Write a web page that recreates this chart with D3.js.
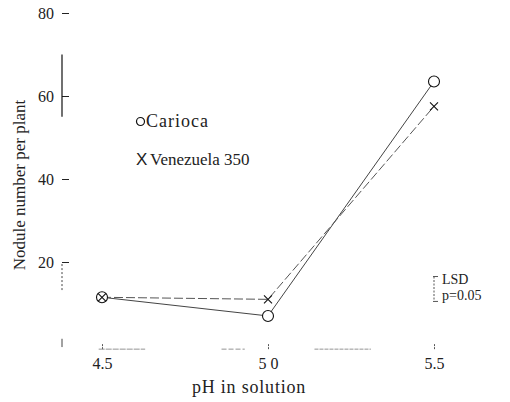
<!DOCTYPE html>
<html>
<head>
<meta charset="utf-8">
<script src="https://cdn.jsdelivr.net/npm/d3@7"></script>
<style>
  html, body { margin: 0; padding: 0; background: #fff; }
  svg { display: block; font-family: "Liberation Serif", "DejaVu Serif", serif; }
</style>
</head>
<body>
<svg id="chart" width="510" height="402"></svg>
<script>
// Nodule number per plant against solution pH, two bean cultivars
const phLevels = [4.5, 5.0, 5.5];
const phTickLabels = ["4.5", "5 0", "5.5"];
const yTicks = [20, 40, 60, 80];
const seriesNames = ["Carioca", "Venezuela 350"];
const cariocaValues = [11.5, 7, 63.5];
const venezuelaValues = [11.5, 11, 57.5];
const lsdValue = 6;          // LSD at p = 0.05, in nodules per plant
const lsdLabels = ["LSD", "p=0.05"];

const svg = d3.select("#chart");

const x = d3.scaleLinear().domain([4.5, 5.5]).range([102, 434]);
const y = d3.scaleLinear().domain([0, 80]).range([345, 13]);

// ---- y axis: ticks pointing inward, only parts of the spine are printed
const yAxis = d3.axisLeft(y)
  .tickValues(yTicks)
  .tickSizeInner(-7)
  .tickSizeOuter(0)
  .tickPadding(8)
  .tickFormat(d3.format("d"));

const gy = svg.append("g")
  .attr("transform", "translate(62,0)")
  .call(yAxis);
gy.select(".domain").remove();
gy.selectAll(".tick line").attr("stroke", "#222").attr("stroke-width", 1);
gy.selectAll(".tick text")
  .attr("font-family", "Liberation Serif, serif")
  .attr("font-size", 16)
  .attr("fill", "#222");

// printed pieces of the y spine
gy.append("line")
  .attr("x1", 0).attr("x2", 0)
  .attr("y1", y(70)).attr("y2", y(55))
  .attr("stroke", "#111").attr("stroke-width", 1.2);
gy.append("line")
  .attr("x1", 0).attr("x2", 0)
  .attr("y1", y(19.5)).attr("y2", y(13))
  .attr("stroke", "#444").attr("stroke-width", 1)
  .attr("stroke-dasharray", "2,2");
gy.append("line")
  .attr("x1", 0).attr("x2", 0)
  .attr("y1", y(1.5)).attr("y2", y(-0.5))
  .attr("stroke", "#444").attr("stroke-width", 1);

// ---- x axis: small upward ticks, faint broken baseline
const xAxis = d3.axisBottom(x)
  .tickValues(phLevels)
  .tickSizeInner(-5)
  .tickSizeOuter(0)
  .tickPadding(8)
  .tickFormat((d, i) => phTickLabels[i]);

const gx = svg.append("g")
  .attr("transform", `translate(0,${y(-1)})`)
  .call(xAxis);
gx.select(".domain").remove();
gx.selectAll(".tick line").attr("stroke", "#555").attr("stroke-width", 1)
  .attr("stroke-dasharray", "2,1");
gx.selectAll(".tick text")
  .attr("font-family", "Liberation Serif, serif")
  .attr("font-size", 16)
  .attr("fill", "#222");

const baselinePieces = [[4.49, 4.63, "6,1"], [4.86, 4.93, "5,2"], [5.14, 5.31, "4,1"]];
gx.selectAll("line.base")
  .data(baselinePieces)
  .join("line")
  .attr("class", "base")
  .attr("x1", d => x(d[0])).attr("x2", d => x(d[1]))
  .attr("y1", 0).attr("y2", 0)
  .attr("stroke", "#888").attr("stroke-width", 0.9)
  .attr("stroke-dasharray", d => d[2]);

// ---- axis titles
svg.append("text")
  .attr("x", 249).attr("y", 393)
  .attr("text-anchor", "middle")
  .attr("font-size", 18)
  .attr("letter-spacing", 0.8)
  .attr("fill", "#222")
  .text("pH in solution");

svg.append("text")
  .attr("transform", "translate(25,185) rotate(-90)")
  .attr("text-anchor", "middle")
  .attr("font-size", 17)
  .attr("fill", "#222")
  .text("Nodule number per plant");

// ---- series lines
const line = d3.line()
  .x((d, i) => x(phLevels[i]))
  .y(d => y(d));

svg.append("path")
  .datum(cariocaValues)
  .attr("d", line)
  .attr("fill", "none")
  .attr("stroke", "#444")
  .attr("stroke-width", 1);

svg.append("path")
  .datum(venezuelaValues)
  .attr("d", line)
  .attr("fill", "none")
  .attr("stroke", "#555")
  .attr("stroke-width", 1)
  .attr("stroke-dasharray", "9,3");

// ---- markers
const crossPath = s => `M${-s},${-s}L${s},${s}M${s},${-s}L${-s},${s}`;

svg.selectAll("circle.carioca")
  .data(cariocaValues)
  .join("circle")
  .attr("class", "carioca")
  .attr("cx", (d, i) => x(phLevels[i]))
  .attr("cy", d => y(d))
  .attr("r", 5.5)
  .attr("fill", "#fff")
  .attr("stroke", "#111")
  .attr("stroke-width", 1.1);

svg.selectAll("path.venezuela")
  .data(venezuelaValues)
  .join("path")
  .attr("class", "venezuela")
  .attr("transform", (d, i) => `translate(${x(phLevels[i])},${y(d)})`)
  .attr("d", crossPath(4))
  .attr("stroke", "#111")
  .attr("stroke-width", 1.1)
  .attr("fill", "none");

// ---- legend
const legend = svg.append("g").attr("transform", "translate(136,0)");
legend.append("circle")
  .attr("cx", 4.5).attr("cy", 121.5)
  .attr("r", 4)
  .attr("fill", "#fff").attr("stroke", "#111").attr("stroke-width", 1.2);
legend.append("text")
  .attr("x", 10).attr("y", 127)
  .attr("font-size", 18).attr("letter-spacing", 1)
  .attr("fill", "#222")
  .text(seriesNames[0]);
legend.append("text")
  .attr("x", 0).attr("y", 165)
  .attr("font-size", 17).attr("fill", "#222")
  .attr("font-family", "Liberation Sans, sans-serif")
  .text("X");
legend.append("text")
  .attr("x", 14).attr("y", 165)
  .attr("font-size", 17).attr("fill", "#222")
  .text(seriesNames[1]);

// ---- LSD bracket
const lsdX = 434;
const lsdTop = y(16.5);
const lsdBottom = y(16.5 - lsdValue);
const lsd = svg.append("g");
lsd.append("line")
  .attr("x1", lsdX).attr("x2", lsdX)
  .attr("y1", lsdTop).attr("y2", lsdBottom)
  .attr("stroke", "#555").attr("stroke-width", 1)
  .attr("stroke-dasharray", "2,1.5");
lsd.append("line")
  .attr("x1", lsdX - 1).attr("x2", lsdX + 4)
  .attr("y1", lsdTop).attr("y2", lsdTop)
  .attr("stroke", "#555");
lsd.append("line")
  .attr("x1", lsdX - 1).attr("x2", lsdX + 4)
  .attr("y1", lsdBottom).attr("y2", lsdBottom)
  .attr("stroke", "#555");
lsd.append("text")
  .attr("x", lsdX + 8).attr("y", 284)
  .attr("font-size", 14).attr("fill", "#222")
  .text(lsdLabels[0]);
lsd.append("text")
  .attr("x", lsdX + 8).attr("y", 300)
  .attr("font-size", 14).attr("fill", "#222")
  .text(lsdLabels[1]);
</script>
</body>
</html>
